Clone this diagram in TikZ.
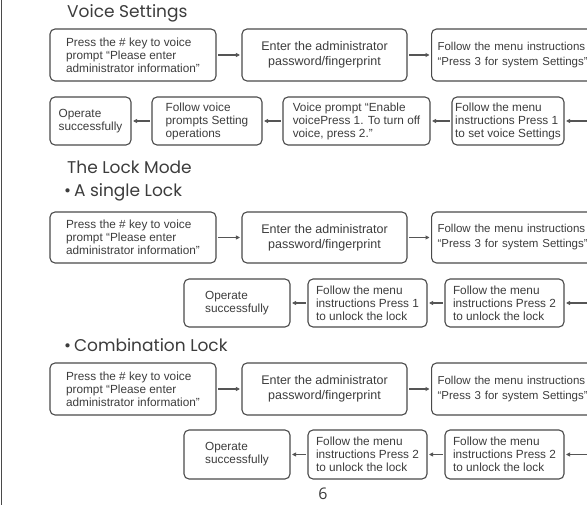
\documentclass[tikz,border=0pt]{standalone}
\usepackage{fontspec}
\setmainfont{Liberation Sans}
\newfontfamily\titlefont{Poppins}
\newfontfamily\numfont{Open Sans}
\usetikzlibrary{arrows.meta}
\definecolor{bordc}{HTML}{4A4A4A}
\definecolor{txtc}{HTML}{3C3C3C}
\definecolor{arrc}{HTML}{555555}
\begin{document}
\begin{tikzpicture}[x=1pt,y=-1pt,
 box/.style={draw=bordc, line width=1.1pt, rounded corners=5pt, text=txtc, font=\fontsize{11.8}{13}\selectfont, align=left, inner sep=1pt},
 bigtxt/.style={font=\fontsize{12.5}{15}\selectfont},
 edgetxt/.style={font=\fontsize{11.5}{15}\selectfont},
 bsize/.style 2 args={minimum width=#1, minimum height=#2},
 arr/.style={draw=arrc, line width=1.3pt, -{Triangle[length=4pt,width=4pt]}, shorten <=1.5pt, shorten >=1.5pt},
 ttl/.style={anchor=west, text=txtc, font=\titlefont\fontsize{17}{19}\selectfont, inner sep=0pt}
]
\clip (0,0) rectangle (587,505);
\coordinate (lt) at (1.5,0);
\coordinate (lb) at (1.5,505);
\draw[bordc, line width=1.5pt] (lt) -- (lb);

% titles
\node[ttl] (t1) at (67,13) {Voice Settings};
\node[ttl] (t2) at (67,167) {The Lock Mode};
\node[ttl] (t3) at (64,192) {•\,A single Lock};
\node[ttl] (t4) at (64,345) {•\,Combination Lock};

% Voice settings
\node[box,bsize={166}{52}] (v1) at (133,55) {Press the \# key to voice\\prompt “Please enter\\administrator information”};
\node[box,bigtxt,bsize={165}{52},align=center] (v2) at (324.5,55) {Enter the administrator\\password/fingerprint};
\node[box,edgetxt,bsize={200}{52},anchor=west,text width=188pt,inner xsep=6pt] (v3) at (431,55) {Follow the menu instructions\\“Press 3 for system Settings”};
\node[box,bsize={112}{48}] (v4) at (508,121) {Follow the menu\\instructions Press 1\\to set voice Settings};
\node[box,bsize={147}{48}] (v5) at (356.5,121) {Voice prompt “Enable\\voicePress 1. To turn off\\voice, press 2.”};
\node[box,bsize={110}{48}] (v6) at (207,121) {Follow voice\\prompts Setting\\operations};
\node[box,bsize={81}{48}] (v7) at (90.5,121) {Operate\\successfully};
\coordinate (ve) at (592,121);
\draw[arr] (v1) -- (v2);
\draw[arr] (v2) -- (v3.west);
\draw[arr] (ve) -- (v4);
\draw[arr] (v4) -- (v5);
\draw[arr] (v5) -- (v6);
\draw[arr] (v6) -- (v7);

% single lock
\node[box,bsize={166}{51}] (s1) at (133,237.5) {Press the \# key to voice\\prompt “Please enter\\administrator information”};
\node[box,bigtxt,bsize={165}{51},align=center] (s2) at (324.5,237.5) {Enter the administrator\\password/fingerprint};
\node[box,edgetxt,bsize={200}{51},anchor=west,text width=188pt,inner xsep=6pt] (s3) at (431,237.5) {Follow the menu instructions\\“Press 3 for system Settings”};
\node[box,bsize={119}{48}] (s4) at (504.5,303) {Follow the menu\\instructions Press 2\\to unlock the lock};
\node[box,bsize={119}{48}] (s5) at (367.5,303) {Follow the menu\\instructions Press 1\\to unlock the lock};
\node[box,bsize={106}{48}] (s6) at (237,303) {Operate\\successfully};
\coordinate (se) at (592,303);
\draw[arr] (s1) -- (s2);
\draw[arr] (s2) -- (s3.west);
\draw[arr] (se) -- (s4);
\draw[arr] (s4) -- (s5);
\draw[arr] (s5) -- (s6);

% combination lock
\node[box,bsize={166}{52}] (c1) at (133,389) {Press the \# key to voice\\prompt “Please enter\\administrator information”};
\node[box,bigtxt,bsize={165}{52},align=center] (c2) at (324.5,389) {Enter the administrator\\password/fingerprint};
\node[box,edgetxt,bsize={200}{52},anchor=west,text width=188pt,inner xsep=6pt] (c3) at (431,389) {Follow the menu instructions\\“Press 3 for system Settings”};
\node[box,bsize={119}{49}] (c4) at (504.5,454.5) {Follow the menu\\instructions Press 2\\to unlock the lock};
\node[box,bsize={119}{49}] (c5) at (367.5,454.5) {Follow the menu\\instructions Press 2\\to unlock the lock};
\node[box,bsize={106}{49}] (c6) at (237,454.5) {Operate\\successfully};
\coordinate (ce) at (592,454.5);
\draw[arr] (c1) -- (c2);
\draw[arr] (c2) -- (c3.west);
\draw[arr] (ce) -- (c4);
\draw[arr] (c4) -- (c5);
\draw[arr] (c5) -- (c6);

\node[font=\numfont\fontsize{16}{18}\selectfont, text=txtc, inner sep=0pt] (pg) at (323,494) {6};
\end{tikzpicture}
\end{document}
